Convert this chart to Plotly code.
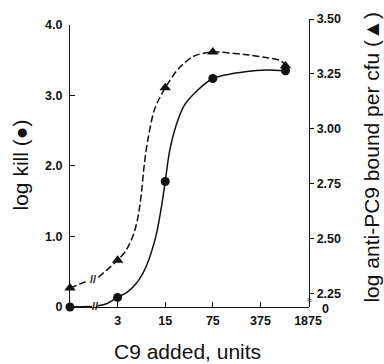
import math
import plotly.graph_objects as go

# ---- data ----
c9_units = [0, 3, 15, 75, 875]
log_kill = [0.0, 0.136, 1.78, 3.24, 3.35]
log_anti_pc9 = [2.276, 2.403, 3.187, 3.35, 3.287]

x_tick_units = [3, 15, 75, 375, 1875]
kill_tickvals = [0, 1, 2, 3, 4]
kill_ticktext = ["0", "1.0", "2.0", "3.0", "4.0"]
anti_tickvals = [2.25, 2.5, 2.75, 3.0, 3.25, 3.5]
anti_ticktext = ["2.25", "2.50", "2.75", "3.00", "3.25", "3.50"]

# fitted curves, positions in log5 dilution steps (0 = no C9)
kill_curve_pos = [0, 0.46, None, 0.57, 0.78, 1.0, 1.2, 1.39, 1.53, 1.65, 1.75, 1.815,
                  1.918, 2.0, 2.09, 2.23, 2.40, 2.68, 3.0, 3.32, 3.68, 4.11, 4.526]
kill_curve_val = [0, 0.007, None, 0.014, 0.05, 0.136, 0.21, 0.333, 0.477, 0.66, 0.87, 1.034,
                  1.408, 1.78, 2.204, 2.578, 2.859, 3.074, 3.24, 3.298, 3.336, 3.361, 3.35]
anti_curve_pos = [0, 0.384, None, 0.595, 1.0, 1.18, 1.34, 1.44, 1.505, 1.56, 1.64, 1.78,
                  2.0, 2.27, 2.55, 2.70, 3.0, 3.66, 4.11, 4.43, 4.526]
anti_curve_val = [2.276, 2.31, None, 2.325, 2.403, 2.448, 2.523, 2.613, 2.718, 2.838, 2.957,
                  3.092, 3.187, 3.272, 3.325, 3.339, 3.35, 3.339, 3.325, 3.31, 3.287]


def to_pos(u):
    return 0.0 if u == 0 else 1 + math.log(u / 3) / math.log(5)


xpos = [to_pos(u) for u in c9_units]
xtickpos = [to_pos(u) for u in x_tick_units]

FONT = "Liberation Sans, Arial, sans-serif"
INK = "#111111"

fig = go.Figure()
fig.add_trace(go.Scatter(x=kill_curve_pos, y=kill_curve_val, mode="lines",
                         line=dict(color=INK, width=1.5, shape="spline", smoothing=0.8),
                         connectgaps=False, hoverinfo="skip", showlegend=False))
fig.add_trace(go.Scatter(x=anti_curve_pos, y=anti_curve_val, yaxis="y2", mode="lines",
                         line=dict(color=INK, width=1.5, shape="spline", smoothing=0.8, dash="7px,3px"),
                         connectgaps=False, hoverinfo="skip", showlegend=False))
fig.add_trace(go.Scatter(x=xpos, y=log_kill, mode="markers", cliponaxis=False,
                         marker=dict(symbol="circle", size=9, color=INK),
                         name="log kill", showlegend=False))
fig.add_trace(go.Scatter(x=xpos, y=log_anti_pc9, yaxis="y2", mode="markers", cliponaxis=False,
                         marker=dict(symbol="triangle-up", size=10, color=INK),
                         name="log anti-PC9", showlegend=False))

W, H = 384, 364
L, R, T, B = 70, 75, 16, 57
ph = H - T - B
pw = W - L - R
top_left_px = 22

tickfont = dict(family=FONT, size=12.5, color=INK, weight="bold")

fig.update_layout(
    width=W, height=H, margin=dict(l=L, r=R, t=T, b=B),
    paper_bgcolor="white", plot_bgcolor="rgba(0,0,0,0)", showlegend=False,
    xaxis=dict(range=[0, 5.02], showgrid=False, zeroline=False, showline=True,
               linecolor=INK, linewidth=1.3, ticks="inside", ticklen=5, tickwidth=1.2,
               tickcolor=INK, tickvals=xtickpos, ticktext=[str(v) for v in x_tick_units],
               tickfont=tickfont, anchor="y", ticklabelstandoff=2),
    yaxis=dict(domain=[0, (H - B - top_left_px) / ph], range=[0, 4], showgrid=False,
               zeroline=False, showline=True, linecolor=INK, linewidth=1.3,
               ticks="inside", ticklen=5, tickwidth=1.2, tickcolor=INK,
               tickvals=kill_tickvals, ticktext=kill_ticktext, tickfont=tickfont,
               ticklabelstandoff=4),
    yaxis2=dict(domain=[0, 1], anchor="x", side="right", range=[2.19, 3.5],
                showgrid=False, zeroline=False, showline=True, linecolor=INK, linewidth=1.3,
                ticks="outside", ticklen=4, tickwidth=1.2, tickcolor=INK,
                tickvals=anti_tickvals, ticktext=anti_ticktext, tickfont=tickfont),
)


def px_x(x):
    return (x - L) / pw


def px_y(y):
    return (H - B - y) / ph


def note(text, x, y, font, angle=0, xref="paper", yref="paper"):
    fig.add_annotation(text=text, xref=xref, yref=yref, x=x, y=y, textangle=angle,
                       xanchor="center", yanchor="middle", showarrow=False, font=font)


titlefont = dict(family=FONT, size=21, color=INK)
note("log kill (●)", px_x(20), px_y(164), titlefont, -90)
note("log anti-PC9 bound per cfu (▲)", px_x(372), px_y(156), titlefont, -90)
note("C9 added, units", px_x(187), px_y(352), titlefont)
note("0", px_x(325), px_y(309), tickfont)
# axis-break marks
breakfont = dict(family=FONT, size=11, color=INK, weight="bold")
note("//", (kill_curve_pos[1] + kill_curve_pos[3]) / 2,
     (kill_curve_val[1] + kill_curve_val[3]) / 2, breakfont, xref="x", yref="y")
note("//", (anti_curve_pos[1] + anti_curve_pos[3]) / 2,
     (anti_curve_val[1] + anti_curve_val[3]) / 2, breakfont, xref="x", yref="y2")
note("≈", 1, 2.222, dict(family=FONT, size=9, color=INK), xref="paper", yref="y2")

fig.write_html("out.html")
